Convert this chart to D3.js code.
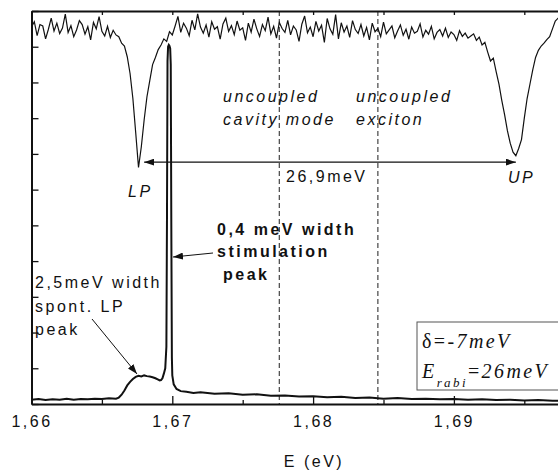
<!DOCTYPE html>
<html>
<head>
<meta charset="utf-8">
<script src="https://cdnjs.cloudflare.com/ajax/libs/d3/7.8.5/d3.min.js"></script>
<style>
  body { margin: 0; background: #fff; }
  text { font-family: "Liberation Sans", Arial, sans-serif; font-size: 16px; letter-spacing: 2.5px; fill: #111; }
  .serif { font-family: "Liberation Serif", "Times New Roman", serif; font-size: 20px; letter-spacing: 2.4px; }
</style>
</head>
<body>
<div id="vis"></div>
<script>
// reflectivity (top trace), [E in eV, intensity in arb. units]
const transmission = [
  [1.6600,10.55],[1.6602,10.70],[1.6604,10.31],[1.6606,10.62],[1.6608,10.58],[1.6610,10.22],[1.6612,10.49],[1.6614,10.80],
  [1.6616,10.44],[1.6618,10.66],[1.6620,10.37],[1.6622,10.52],[1.6624,10.91],[1.6626,10.40],[1.6628,10.59],[1.6630,10.28],
  [1.6632,10.47],[1.6634,10.73],[1.6636,10.62],[1.6638,10.35],[1.6640,10.56],[1.6642,10.19],[1.6644,10.68],[1.6646,10.50],
  [1.6648,10.84],[1.6650,10.43],[1.6652,10.30],[1.6654,10.57],[1.6656,10.26],[1.6658,10.46],[1.6660,10.33],
  [1.6662,10.28],[1.6664,10.10],[1.6666,10.02],[1.6668,9.72],[1.6670,9.25],[1.6672,8.55],[1.6674,7.60],[1.6676,6.62],
  [1.6678,7.20],[1.6680,7.95],[1.6682,8.60],[1.6684,9.05],[1.6686,9.50],[1.6688,9.70],[1.6690,9.92],[1.6692,10.05],
  [1.6694,10.22],[1.6696,10.15],[1.6698,10.42],[1.6700,10.33],
  [1.6702,10.58],[1.6704,10.85],[1.6706,10.40],[1.6708,10.66],[1.6710,10.52],[1.6712,10.31],[1.6714,10.74],[1.6716,10.47],
  [1.6718,10.92],[1.6720,10.55],[1.6722,10.38],[1.6724,10.61],[1.6726,10.27],[1.6728,10.70],[1.6730,10.49],[1.6732,10.56],
  [1.6734,10.21],[1.6736,10.64],[1.6738,10.80],[1.6740,10.43],[1.6742,10.59],[1.6744,10.34],[1.6746,10.72],[1.6748,10.46],
  [1.6750,10.53],[1.6752,10.18],[1.6754,10.66],[1.6756,10.41],[1.6758,10.77],[1.6760,10.50],[1.6762,10.29],[1.6764,10.62],
  [1.6766,10.45],[1.6768,10.83],[1.6770,10.36],[1.6772,10.57],[1.6774,10.24],[1.6776,10.68],[1.6778,10.51],[1.6780,10.40],
  [1.6782,10.74],[1.6784,10.33],[1.6786,10.58],[1.6788,10.47],[1.6790,10.15],[1.6792,10.63],[1.6794,10.86],[1.6796,10.39],
  [1.6798,10.55],[1.6800,10.28],[1.6802,10.71],[1.6804,10.44],[1.6806,10.60],[1.6808,10.12],[1.6810,10.79],[1.6812,10.50],
  [1.6814,10.35],[1.6816,10.90],[1.6818,10.22],[1.6820,10.67],[1.6822,10.41],[1.6824,10.58],[1.6826,10.26],[1.6828,10.73],
  [1.6830,10.48],[1.6832,10.37],[1.6834,10.62],[1.6836,10.30],[1.6838,10.54],[1.6840,10.19],[1.6842,10.66],[1.6844,10.42],
  [1.6846,10.51],[1.6848,10.28],[1.6850,10.69],[1.6852,10.36],[1.6854,10.47],[1.6856,10.58],[1.6858,10.25],[1.6860,10.44],
  [1.6862,10.61],[1.6864,10.32],[1.6866,10.49],[1.6868,10.21],[1.6870,10.55],[1.6872,10.38],[1.6874,10.43],[1.6876,10.64],
  [1.6878,10.27],[1.6880,10.46],[1.6882,10.35],[1.6884,10.57],[1.6886,10.22],[1.6888,10.40],[1.6890,10.48],[1.6892,10.30],
  [1.6894,10.52],[1.6896,10.26],[1.6898,10.41],[1.6900,10.34],[1.6902,10.18],[1.6904,10.45],[1.6906,10.29],[1.6908,10.38],
  [1.6910,10.24],
  [1.6912,10.30],[1.6914,10.36],[1.6916,10.18],[1.6918,10.27],[1.6920,10.05],[1.6922,10.12],[1.6924,9.85],[1.6926,9.60],
  [1.6928,9.68],[1.6930,9.30],[1.6932,8.95],[1.6934,8.50],[1.6936,8.10],[1.6938,7.65],[1.6940,7.30],[1.6942,7.05],
  [1.6944,6.95],[1.6946,7.15],[1.6948,7.40],[1.6950,8.00],[1.6952,8.55],[1.6954,8.95],[1.6956,9.35],[1.6958,9.70],
  [1.6960,9.90],[1.6962,10.02],[1.6964,10.10],[1.6966,10.20],[1.6968,10.28],[1.6970,10.50],[1.6972,10.72],[1.6974,10.80],
  [1.6976,10.75]
];

// photoluminescence (bottom trace)
const emission = [
  [1.6600,0.12],[1.6605,0.14],[1.6610,0.11],[1.6615,0.13],[1.6620,0.12],[1.6625,0.15],[1.6630,0.12],[1.6635,0.14],
  [1.6640,0.13],[1.6645,0.15],[1.6650,0.14],[1.6655,0.16],[1.6660,0.15],[1.6662,0.18],[1.6664,0.26],[1.6666,0.38],
  [1.6668,0.52],[1.6670,0.62],[1.6672,0.70],[1.6674,0.76],[1.6676,0.79],[1.6678,0.77],[1.6680,0.80],[1.6682,0.78],
  [1.6684,0.77],[1.6686,0.75],[1.6688,0.72],[1.6690,0.68],[1.6691,0.66],[1.6692,0.67],[1.6693,0.72],[1.6694,0.85],
  [1.6695,1.0],[1.66958,1.6],[1.66962,5.0],[1.66966,9.6],[1.6697,10.0],[1.66975,10.05],[1.6698,10.02],[1.66985,9.95],
  [1.66989,9.5],[1.66993,5.0],[1.66997,1.3],[1.6700,0.8],[1.6701,0.55],[1.6703,0.42],[1.6706,0.36],[1.6710,0.34],
  [1.6715,0.31],[1.6720,0.33],[1.6730,0.29],[1.6740,0.30],[1.6750,0.26],[1.6760,0.27],[1.6770,0.23],[1.6780,0.24],
  [1.6790,0.21],[1.6800,0.22],[1.6810,0.19],[1.6820,0.20],[1.6830,0.17],[1.6840,0.18],[1.6850,0.15],[1.6860,0.17],
  [1.6870,0.14],[1.6880,0.15],[1.6890,0.13],[1.6900,0.14],[1.6910,0.12],[1.6920,0.13],[1.6930,0.11],[1.6940,0.12],
  [1.6950,0.10],[1.6960,0.11],[1.6970,0.09],[1.6980,0.10]
];

const uncoupled = [1.6776, 1.6846];        // cavity mode, exciton
const polaritonArrow = [1.6680, 1.6944];   // LP -> UP splitting arrow
const splittingLevel = 6.77;
const xMajor = [1.66, 1.67, 1.68, 1.69];
const xMinor = [1.665, 1.675, 1.685, 1.695];
const yTicks = [0, 1, 2, 3, 4, 5, 6, 7, 8, 9, 10, 11];

const width = 558, height = 472;
const padL = 31.5, padR = 594.7, padT = 11, padB = 404;

const svg = d3.select("#vis").append("svg")
  .attr("width", width)
  .attr("height", height)
  .style("background", "#fff");

const x = d3.scaleLinear().domain([1.66, 1.70]).range([padL, padR]);
const y = d3.scaleLinear().domain([0, 11]).range([padB, padT]);

svg.append("clipPath").attr("id", "plot")
  .append("rect").attr("x", padL).attr("y", padT).attr("width", width - padL).attr("height", padB - padT);

const defs = svg.append("defs");
defs.append("marker")
  .attr("id", "head")
  .attr("viewBox", "0 0 10 7")
  .attr("refX", 10).attr("refY", 3.5)
  .attr("markerWidth", 10).attr("markerHeight", 7)
  .attr("markerUnits", "userSpaceOnUse")
  .attr("orient", "auto-start-reverse")
  .append("path").attr("d", "M0,0 L10,3.5 L0,7 Z").attr("fill", "#111");

// dashed lines for uncoupled modes
svg.append("g").selectAll("line")
  .data(uncoupled)
  .join("line")
  .attr("x1", d => x(d)).attr("x2", d => x(d))
  .attr("y1", padT).attr("y2", padB)
  .attr("stroke", "#444")
  .attr("stroke-width", 1.2)
  .attr("stroke-dasharray", "5,3");

const line = d3.line().x(d => x(d[0])).y(d => y(d[1]));

const curves = svg.append("g").attr("clip-path", "url(#plot)");
curves.append("path")
  .attr("d", line(transmission))
  .attr("fill", "none")
  .attr("stroke", "#111")
  .attr("stroke-width", 1.2);
curves.append("path")
  .attr("d", line(emission))
  .attr("fill", "none")
  .attr("stroke", "#111")
  .attr("stroke-width", 2);

// axes
const fmt = d => d.toFixed(2).replace(".", ",");
const xAxis = svg.append("g").attr("transform", `translate(0,${padB})`)
  .call(d3.axisBottom(x).tickValues(xMajor).tickSize(-8).tickSizeOuter(0).tickPadding(12).tickFormat(fmt));
svg.append("g").attr("transform", `translate(0,${padB})`)
  .call(d3.axisBottom(x).tickValues(xMinor).tickSize(-4).tickSizeOuter(0).tickFormat(""))
  .select(".domain").remove();
svg.append("g").attr("transform", `translate(0,${padT})`)
  .call(d3.axisTop(x).tickValues(xMajor.concat(xMinor)).tickSize(-4).tickSizeOuter(0).tickFormat(""));
svg.append("g").attr("transform", `translate(${padL},0)`)
  .call(d3.axisLeft(y).tickValues(yTicks).tickSize(-7).tickSizeOuter(0).tickFormat(""));

svg.selectAll(".domain").attr("stroke", "#111").attr("stroke-width", 2);
svg.selectAll(".tick line").attr("stroke", "#111").attr("stroke-width", 1.3);
xAxis.selectAll(".tick text")
  .style("font-family", "'Liberation Sans', Arial, sans-serif")
  .style("font-size", "16px")
  .style("letter-spacing", "2.5px")
  .attr("fill", "#111");

svg.append("text").attr("x", 314).attr("y", 467).attr("text-anchor", "middle").text("E (eV)");

// splitting arrow
svg.append("line")
  .attr("x1", x(polaritonArrow[0])).attr("x2", x(polaritonArrow[1]))
  .attr("y1", y(splittingLevel)).attr("y2", y(splittingLevel))
  .attr("stroke", "#111").attr("stroke-width", 1.2)
  .attr("marker-start", "url(#head)").attr("marker-end", "url(#head)");

const italic = [
  ["LP", 128, 197], ["UP", 508, 183],
  ["uncoupled", 223, 102], ["cavity mode", 223, 125],
  ["uncoupled", 356, 102], ["exciton", 356, 125]
];
svg.append("g").selectAll("text")
  .data(italic)
  .join("text")
  .attr("x", d => d[1]).attr("y", d => d[2])
  .style("font-style", "italic")
  .text(d => d[0]);

svg.append("text").attr("x", 286).attr("y", 182).text("26,9meV");

const bold = [["0,4 meV width", 217, 235], ["stimulation", 217, 257], ["peak", 223, 280]];
svg.append("g").selectAll("text")
  .data(bold)
  .join("text")
  .attr("x", d => d[1]).attr("y", d => d[2])
  .style("font-weight", "bold")
  .text(d => d[0]);

const plain = [["2,5meV width", 35, 288], ["spont. LP", 35, 312], ["peak", 35, 335]];
svg.append("g").selectAll("text")
  .data(plain)
  .join("text")
  .attr("x", d => d[1]).attr("y", d => d[2])
  .text(d => d[0]);

// pointer arrows
svg.append("line").attr("x1", 213).attr("y1", 253).attr("x2", 173).attr("y2", 257)
  .attr("stroke", "#111").attr("stroke-width", 1).attr("marker-end", "url(#head)");
svg.append("line").attr("x1", 92).attr("y1", 319).attr("x2", 137).attr("y2", 374)
  .attr("stroke", "#111").attr("stroke-width", 1).attr("marker-end", "url(#head)");

// parameter box
svg.append("rect").attr("x", 417).attr("y", 322).attr("width", 160).attr("height", 68)
  .attr("fill", "#fff").attr("stroke", "#555").attr("stroke-width", 1);
const t1 = svg.append("text").attr("class", "serif").attr("x", 422).attr("y", 348);
t1.append("tspan").text("δ=");
t1.append("tspan").style("font-style", "italic").text("-7meV");
const t2 = svg.append("text").attr("class", "serif").attr("x", 422).attr("y", 378);
t2.append("tspan").style("font-style", "italic").text("E");
t2.append("tspan").style("font-style", "italic").style("font-size", "13px").attr("dy", 9).text("rabi");
t2.append("tspan").attr("dy", -9).text("=");
t2.append("tspan").style("font-style", "italic").text("26meV");
</script>
</body>
</html>
